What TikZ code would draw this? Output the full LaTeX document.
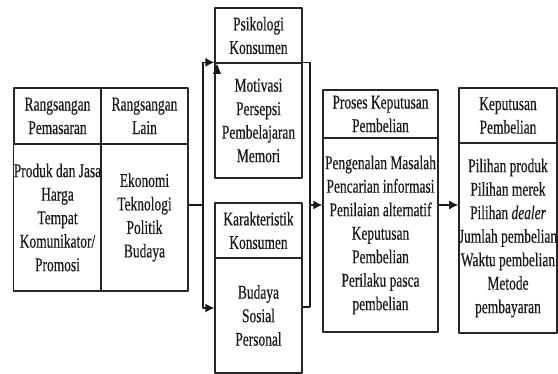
\documentclass[tikz,border=0pt]{standalone}
\usepackage{fontspec}
\setmainfont[FakeStretch=0.69,FakeBold=0.4]{Liberation Serif}
\usetikzlibrary{arrows.meta}

\begin{document}
\begin{tikzpicture}[x=1pt, y=-1pt, line width=1.3pt, line join=round,
  cell/.style={draw=black!85, inner sep=0pt, align=center, text=black!90,
    font=\fontsize{19.5}{23.5}\selectfont},
  flow/.style={draw=black!90, -{Latex[length=9pt,width=9pt]}}]
  \useasboundingbox (0,0) rectangle (558,374);
  % stimuli
  \node[cell, minimum width=87, minimum height=56] (rpHead) at (57.5,116) {Rangsangan\\Pemasaran};
  \node[cell, minimum width=87, minimum height=56] (rlHead) at (144.5,116) {Rangsangan\\Lain};
  \node[cell, minimum width=87, minimum height=147] (rpBody) at (57.5,217.5) {Produk dan Jasa\\Harga\\Tempat\\Komunikator/\\Promosi};
  \node[cell, minimum width=87, minimum height=147] (rlBody) at (144.5,217.5) {Ekonomi\\Teknologi\\Politik\\Budaya};
  % buyer
  \node[cell, minimum width=87, minimum height=55] (psiHead) at (258.5,35.5) {Psikologi\\Konsumen};
  \node[cell, minimum width=87, minimum height=115] (psiBody) at (258.5,120.5) {Motivasi\\Persepsi\\Pembelajaran\\Memori};
  \node[cell, minimum width=87, minimum height=55] (karHead) at (258.5,230.5) {Karakteristik\\Konsumen};
  \node[cell, minimum width=87, minimum height=115] (karBody) at (258.5,315.5) {Budaya\\Sosial\\Personal};
  % decision
  \node[cell, minimum width=115, minimum height=48] (prosesHead) at (380.5,114) {Proses Keputusan\\Pembelian};
  \node[cell, minimum width=115, minimum height=194] (prosesBody) at (380.5,235) {Pengenalan Masalah\\Pencarian informasi\\Penilaian alternatif\\Keputusan\\Pembelian\\Perilaku pasca\\pembelian};
  \node[cell, minimum width=98, minimum height=55] (kepHead) at (508,115.5) {Keputusan\\Pembelian};
  \node[cell, minimum width=98, minimum height=190] (kepBody) at (508,238) {Pilihan produk\\Pilihan merek\\Pilihan \textit{dealer}\\Jumlah pembelian\\Waktu pembelian\\Metode\\pembayaran};

  \coordinate (split) at (203,205);
  \coordinate (merge) at (310,205);
  \draw[black!90] (rlBody.east |- split) -- (split);
  \draw[flow] (split) |- (psiBody.north west);
  \draw[flow] (split) |- ([yshift=7.5pt]karBody.west);
  \draw[black!90] (psiBody.north east) -| (merge) |- ([yshift=8.5pt]karBody.east);
  \draw[flow] (merge) -- (merge -| prosesBody.west);
  \draw[flow] (prosesBody.east |- merge) -- (kepBody.west |- merge);
  \fill[black!90] (213,74) -- (221,74) -- (217,64) -- cycle;   % small tip under the header
\end{tikzpicture}
\end{document}
